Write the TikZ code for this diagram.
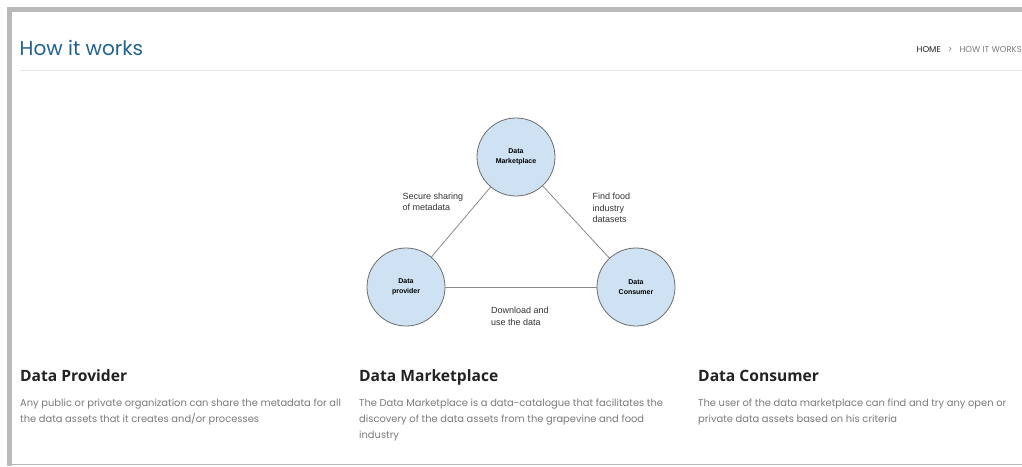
\documentclass[tikz,border=0pt]{standalone}
\usepackage{fontspec}
\setmainfont{Poppins}
\newfontfamily\headfont{Open Sans}
\newfontfamily\diagfont{Liberation Sans}
\definecolor{framegray}{HTML}{B9B9B9}
\definecolor{rulegray}{HTML}{E6E6E6}
\definecolor{titleblue}{HTML}{1F6391}
\definecolor{bodygray}{HTML}{7A7A7A}
\definecolor{headdark}{HTML}{222222}
\definecolor{nodefill}{HTML}{CFE2F3}
\definecolor{nodeline}{HTML}{6E6E6E}
\definecolor{linkgray}{HTML}{8A8A8A}
\definecolor{labeltext}{HTML}{333333}
\tikzset{
  rolecircle/.style={circle, draw=nodeline, line width=0.8pt, fill=nodefill,
    minimum size=78pt, inner sep=0pt, align=center,
    font=\diagfont\bfseries\fontsize{7}{10}\selectfont, text=black},
  linklabel/.style={align=left, inner sep=0pt, text=labeltext,
    font=\diagfont\fontsize{9}{11.5}\selectfont},
  link/.style={draw=linkgray, line width=0.8pt},
  heading/.style={anchor=base west, inner sep=0pt, text=headdark,
    font=\headfont\bfseries\fontsize{15.6}{18}\selectfont},
  bodytext/.style={anchor=north west, inner sep=0pt, align=left, text=bodygray,
    font=\fontsize{9.9}{16}\selectfont}
}
\begin{document}
\begin{tikzpicture}[x=1pt,y=-1pt]
\useasboundingbox (0,0) rectangle (1022,466);
\fill[white] (0,0) rectangle (1022,466);
% page frame
\fill[framegray] (7,7) rectangle (1022,12);
\fill[framegray] (7,7) rectangle (12,466);
\fill[framegray] (12,463.5) rectangle (1022,465);
% page header
\node[anchor=base west, inner sep=0pt, text=titleblue,
  font=\fontsize{20}{24}\selectfont] (title) at (19.5,55) {How it works};
\draw[rulegray, line width=1pt] (20,70.5) -- (1022,70.5);
\node[anchor=base east, inner sep=0pt, font=\fontsize{8.5}{10}\selectfont]
  (crumb) at (1022,52) {\textcolor{headdark}{HOME}\hspace{7pt}\textcolor{bodygray}{>}\hspace{7pt}\textcolor{bodygray}{HOW IT WORKS}};
% diagram
\node[rolecircle] (market) at (516,157) {Data\\Marketplace};
\node[rolecircle] (provider) at (406,287) {Data\\provider};
\node[rolecircle] (consumer) at (636,287) {Data\\Consumer};
\draw[link] (provider) -- (market);
\draw[link] (market) -- (consumer);
\draw[link] (provider) -- (consumer);
\node[linklabel, anchor=north west] (lshare) at (402.5,192.5) {Secure sharing\\of metadata};
\node[linklabel, anchor=north west] (lfind) at (592.5,193) {Find food\\industry\\datasets};
\node[linklabel, anchor=north west] (luse) at (491,307) {Download and\\use the data};
% role descriptions
\node[heading] (hprov) at (20,381.5) {Data Provider};
\node[heading] (hmark) at (359,381.5) {Data Marketplace};
\node[heading] (hcons) at (698,381.5) {Data Consumer};
\node[bodytext] (bprov) at (20,399) {Any public or private organization can share the metadata for all\\the data assets that it creates and/or processes};
\node[bodytext] (bmark) at (359,399) {The Data Marketplace is a data-catalogue that facilitates the\\discovery of the data assets from the grapevine and food\\industry};
\node[bodytext] (bcons) at (698,399) {The user of the data marketplace can find and try any open or\\private data assets based on his criteria};
\end{tikzpicture}
\end{document}
